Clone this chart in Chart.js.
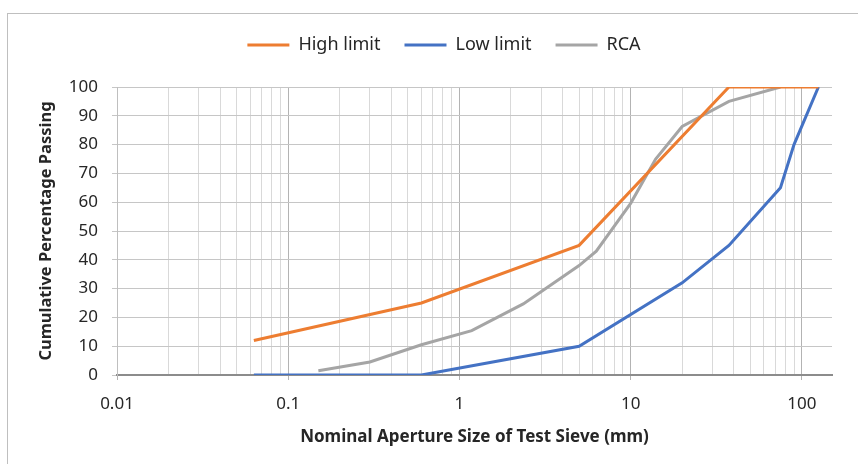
<!DOCTYPE HTML>
<html lang="en">
<head>
    <meta charset="utf-8" />
    <title>Grading curve - RCA</title>
    <script src="https://cdn.jsdelivr.net/npm/chart.js"></script>
    <style>
        body { margin: 0; background: #fff; }
        #frame { position: absolute; left: 7px; top: 13px; width: 900px; height: 500px;
                 border-left: 1px solid #bfbfbf; border-top: 1px solid #bfbfbf; }
        #wrap { position: absolute; left: 0; top: 0; width: 858px; height: 464px; }
    </style>
</head>
<body>
    <div id="frame"></div>
    <div id="wrap"><canvas id="gradingChart" width="858" height="464"></canvas></div>
    <script>
        // sieve sizes (mm) and % passing
        const highSize = [0.063, 0.6, 5, 37.5, 125];
        const highPass = [12, 25, 45, 100, 100];

        const lowSize = [0.063, 0.6, 5, 20, 37.5, 75, 90, 125];
        const lowPass = [0, 0, 10, 32, 45, 65, 80, 100];

        const rcaSize = [0.15, 0.3, 0.6, 1.18, 2.36, 5, 6.3, 10, 14, 20, 37.5, 75];
        const rcaPass = [1.5, 4.5, 10.5, 15.4, 24.7, 38, 43, 59.6, 75, 86.3, 95, 100];

        const xMin = 0.01;
        const xMax = 150;
        const xLabels = [0.01, 0.1, 1, 10, 100]; // labelled decades

        function toPoints(xs, ys) {
            return xs.map((x, i) => ({ x: x, y: ys[i] }));
        }

        // every 1..9 step inside each decade, for the grid
        function gridValues() {
            const vals = [];
            for (let d = 0.01; d < xMax; d *= 10) {
                for (let k = 1; k <= 9; k++) {
                    const v = +(d * k).toPrecision(3);
                    if (v <= xMax) vals.push(v);
                }
            }
            return vals;
        }

        function isDecade(v) {
            return xLabels.some(l => Math.abs(l - v) < l * 1e-6);
        }

        const font = "'Noto Sans', 'Liberation Sans', sans-serif";

        // legend sits a little right of centre in the original
        const legendShift = {
            id: 'legendShift',
            afterLayout(chart) {
                chart.legend.left += 24;
                chart.legend.right += 24;
            }
        };

        window.onload = function () {
            const ctx = document.getElementById('gradingChart').getContext('2d');
            new Chart(ctx, {
                type: 'line',
                data: {
                    datasets: [{
                        label: 'High limit',
                        data: toPoints(highSize, highPass),
                        borderColor: '#ED7D31',
                        backgroundColor: '#ED7D31',
                        borderWidth: 3,
                        pointRadius: 0,
                        pointStyle: 'line',
                        tension: 0
                    }, {
                        label: 'Low limit',
                        data: toPoints(lowSize, lowPass),
                        borderColor: '#4472C4',
                        backgroundColor: '#4472C4',
                        borderWidth: 3,
                        pointRadius: 0,
                        pointStyle: 'line',
                        tension: 0
                    }, {
                        label: 'RCA',
                        data: toPoints(rcaSize, rcaPass),
                        borderColor: '#A5A5A5',
                        backgroundColor: '#A5A5A5',
                        borderWidth: 3,
                        pointRadius: 0,
                        pointStyle: 'line',
                        tension: 0
                    }]
                },
                plugins: [legendShift],
                options: {
                    responsive: false,
                    animation: false,
                    layout: { padding: { left: 8, right: 26, top: 12, bottom: 0 } },
                    plugins: {
                        tooltip: { enabled: false },
                        legend: {
                            position: 'top',
                            labels: {
                                usePointStyle: true,
                                pointStyleWidth: 42,
                                padding: 24,
                                color: '#262626',
                                font: { family: font, size: 18 }
                            }
                        },
                        // empty spacer between legend and plot
                        subtitle: {
                            display: true,
                            text: '',
                            weight: 500,
                            font: { size: 10 },
                            padding: { top: 0, bottom: 11 }
                        }
                    },
                    scales: {
                        x: {
                            type: 'logarithmic',
                            min: xMin,
                            max: xMax,
                            bounds: 'data',
                            afterBuildTicks: function (scale) {
                                scale.ticks = gridValues().map(v => ({ value: v, major: isDecade(v) }));
                            },
                            afterFit: function (scale) { scale.height = 89; },
                            ticks: {
                                autoSkip: false,
                                maxRotation: 0,
                                padding: 14,
                                color: '#262626',
                                font: { family: font, size: 17 },
                                callback: function (value) {
                                    return isDecade(value) ? String(value) : '';
                                }
                            },
                            grid: {
                                color: c => (c.tick && c.tick.major) ? '#b3b3b3' : '#d9d9d9',
                                tickColor: c => (c.tick && c.tick.major) ? '#b3b3b3' : 'rgba(0,0,0,0)',
                                tickLength: 5,
                                lineWidth: 1
                            },
                            border: { color: '#8c8c8c', width: 2 },
                            title: {
                                display: true,
                                text: 'Nominal Aperture Size of Test Sieve (mm)',
                                color: '#262626',
                                font: { family: font, size: 17, weight: 'bold' },
                                padding: { top: 4, bottom: 17 }
                            }
                        },
                        y: {
                            min: 0,
                            max: 100,
                            afterFit: function (scale) { scale.width = 109; },
                            ticks: {
                                stepSize: 10,
                                padding: 14,
                                color: '#262626',
                                font: { family: font, size: 17 }
                            },
                            grid: {
                                color: '#c6c6c6',
                                tickColor: '#c6c6c6',
                                tickLength: 5,
                                lineWidth: 1
                            },
                            border: { color: '#bfbfbf' },
                            title: {
                                display: true,
                                text: 'Cumulative Percentage Passing',
                                color: '#262626',
                                font: { family: font, size: 16.5, weight: 'bold' },
                                padding: { top: 28, bottom: 4 }
                            }
                        }
                    }
                }
            });
        };
    </script>
</body>
</html>
